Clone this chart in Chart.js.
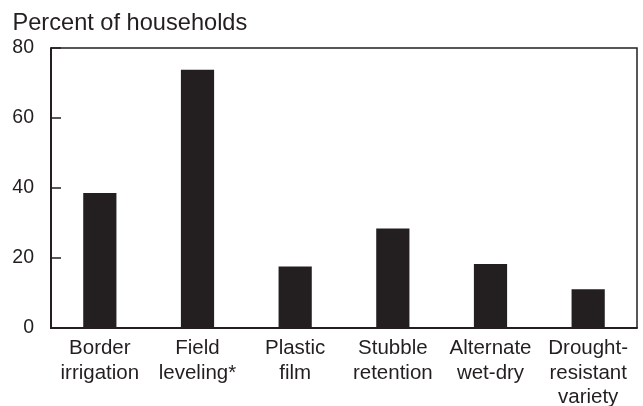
<!DOCTYPE html>
<html>
<head>
<meta charset="utf-8">
<script src="https://cdn.jsdelivr.net/npm/chart.js@4/dist/chart.umd.min.js"></script>
<style>
html,body{margin:0;padding:0;background:#fff;}
#wrap{width:643px;height:406px;position:relative;}
</style>
</head>
<body>
<div id="wrap"><canvas id="c" width="643" height="406"></canvas></div>
<script>
const titleText = "Percent of households";
const categories = [
  ["Border","irrigation"],
  ["Field","leveling*"],
  ["Plastic","film"],
  ["Stubble","retention"],
  ["Alternate","wet-dry"],
  ["Drought-","resistant","variety"]
];
const values = [38.6, 73.8, 17.6, 28.4, 18.3, 11.1];
const yTicks = [0, 20, 40, 60, 80];

const ink = "#231f20";
const fontFam = "'Liberation Sans', Arial, Helvetica, sans-serif";

const framePlugin = {
  id: 'frame',
  afterDatasetsDraw(chart) {
    const {ctx, chartArea: a, scales} = chart;
    ctx.save();
    ctx.strokeStyle = ink;
    ctx.lineWidth = 1.5;
    yTicks.forEach(v => {
      const y = scales.y.getPixelForValue(v);
      ctx.beginPath();
      ctx.moveTo(a.left, y);
      ctx.lineTo(a.left + 10, y);
      ctx.stroke();
    });
    ctx.lineWidth = 1.5;
    ctx.beginPath();
    ctx.moveTo(a.left, a.top);
    ctx.lineTo(a.right, a.top);
    ctx.lineTo(a.right, a.bottom);
    ctx.stroke();
    ctx.lineWidth = 2;
    ctx.beginPath();
    ctx.moveTo(a.left, a.top - 0.75);
    ctx.lineTo(a.left, a.bottom);
    ctx.lineTo(a.right + 0.75, a.bottom);
    ctx.stroke();
    ctx.fillStyle = ink;
    ctx.font = "23.6px " + fontFam;
    ctx.textBaseline = 'alphabetic';
    ctx.textAlign = 'left';
    ctx.fillText(titleText, 12.5, 29.5);
    ctx.restore();
  }
};

new Chart(document.getElementById('c'), {
  type: 'bar',
  data: {
    labels: categories,
    datasets: [{
      data: values,
      backgroundColor: ink,
      borderWidth: 0,
      categoryPercentage: 1.0,
      barPercentage: 0.34
    }]
  },
  options: {
    responsive: false,
    animation: false,
    devicePixelRatio: 1,
    layout: { padding: { top: 48, left: 0, right: 6, bottom: 0 } },
    plugins: { legend: { display: false }, tooltip: { enabled: false }, title: { display: false } },
    scales: {
      x: {
        offset: true,
        grid: { display: false, drawTicks: false },
        border: { display: false },
        ticks: {
          color: ink,
          font: { family: fontFam, size: 20.5, lineHeight: 1.2 },
          padding: 8,
          maxRotation: 0,
          autoSkip: false
        },
        afterFit(s) { s.height = 78; }
      },
      y: {
        min: 0, max: 80,
        afterBuildTicks(s) { s.ticks = yTicks.map(v => ({ value: v })); },
        grid: { display: false, drawTicks: false },
        border: { display: false },
        ticks: {
          color: ink,
          font: { family: fontFam, size: 19.5 },
          padding: 17
        },
        afterFit(s) { s.width = 51; }
      }
    }
  },
  plugins: [framePlugin]
});
</script>
</body>
</html>
